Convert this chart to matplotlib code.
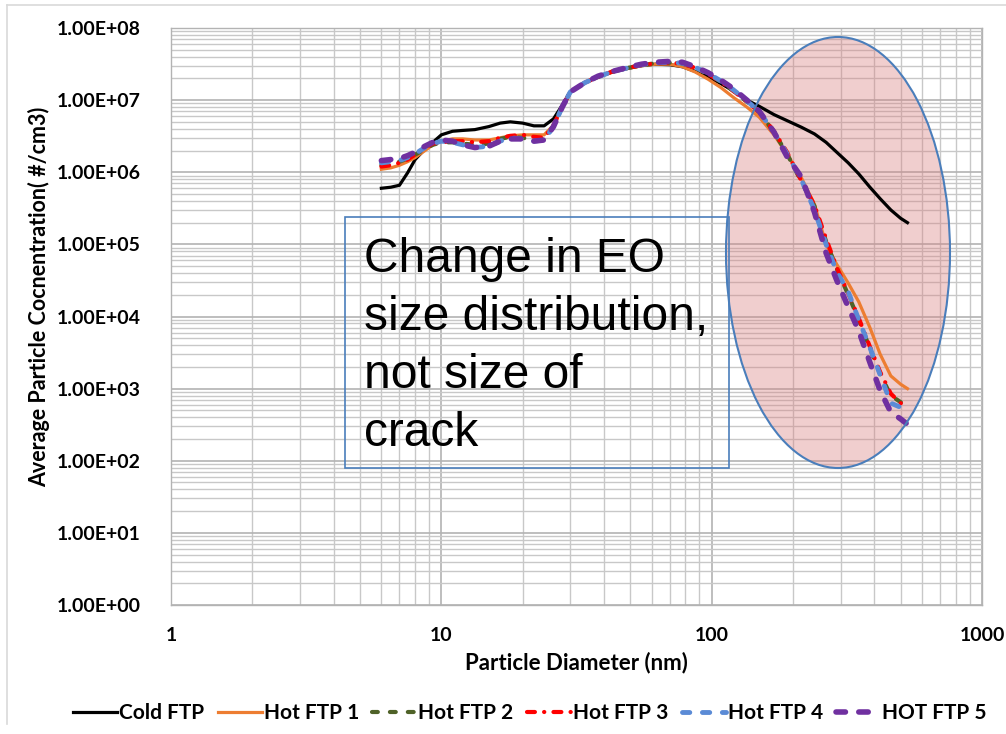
import numpy as np
import matplotlib
matplotlib.use("Agg")
import matplotlib.pyplot as plt
from matplotlib.patches import Ellipse, Rectangle
from matplotlib.ticker import LogLocator, FixedLocator, FuncFormatter, NullFormatter

W, H = 1006, 734

# particle diameter (nm)
diam = [6.0, 6.5, 7.0, 7.5, 8.0, 8.7, 9.3, 10, 11, 12, 13.3, 15, 16.5, 18, 20,
        22, 24, 26, 28, 30, 34, 38, 43, 49, 55, 62, 70, 78, 87, 97, 108, 120,
        135, 150, 170, 190, 215, 240, 265, 290, 320, 350, 385, 420, 460, 500, 530]

cold_ftp = [6.0e5, 6.2e5, 6.6e5, 9.8e5, 1.5e6, 2.1e6, 2.6e6, 3.3e6,
            3.7e6, 3.8e6, 3.9e6, 4.3e6, 4.8e6, 5.0e6, 4.8e6, 4.4e6, 4.4e6, 5.5e6,
            8.5e6, 1.3e7, 1.75e7, 2.1e7, 2.45e7, 2.75e7, 3.0e7, 3.15e7, 3.1e7, 2.9e7,
            2.5e7, 2.1e7, 1.7e7, 1.35e7, 1.0e7, 8.2e6, 6.3e6, 5.2e6, 4.2e6, 3.4e6,
            2.6e6, 1.9e6, 1.35e6, 9.5e5, 6.2e5, 4.3e5, 3.0e5, 2.3e5, 2.0e5]

hot_ftp1 = [1.1e6, 1.15e6, 1.25e6, 1.4e6, 1.6e6, 2.0e6, 2.4e6, 2.7e6,
            2.9e6, 2.9e6, 2.8e6, 2.8e6, 3.0e6, 3.2e6, 3.3e6, 3.3e6, 3.3e6, 4.5e6,
            8.0e6, 1.3e7, 1.75e7, 2.1e7, 2.45e7, 2.75e7, 3.0e7, 3.15e7, 3.15e7, 2.9e7,
            2.45e7, 1.95e7, 1.5e7, 1.1e7, 8.0e6, 5.8e6, 3.3e6, 1.8e6, 8.3e5, 3.6e5,
            1.0e5, 5.3e4, 2.9e4, 1.6e4, 7.0e3, 3.0e3, 1.5e3, 1.15e3, 1.0e3]

hot_ftp2 = [1.25e6, 1.3e6, 1.4e6, 1.55e6, 1.75e6, 2.1e6, 2.4e6, 2.6e6,
            2.6e6, 2.5e6, 2.4e6, 2.5e6, 2.9e6, 3.1e6, 3.0e6, 2.8e6, 2.9e6, 4.4e6,
            8.0e6, 1.3e7, 1.75e7, 2.1e7, 2.5e7, 2.8e7, 3.05e7, 3.25e7, 3.3e7, 3.2e7,
            2.8e7, 2.3e7, 1.8e7, 1.35e7, 9.5e6, 6.8e6, 3.6e6, 1.8e6, 7.3e5, 3.4e5,
            1.1e5, 4.6e4, 2.0e4, 9.0e3, 3.6e3, 1.6e3, 8.0e2, 6.5e2, 6.0e2]

hot_ftp3 = [1.2e6, 1.25e6, 1.35e6, 1.5e6, 1.75e6, 2.2e6, 2.5e6, 2.6e6,
            2.7e6, 2.7e6, 2.6e6, 2.7e6, 3.0e6, 3.2e6, 3.3e6, 3.1e6, 3.0e6, 4.5e6,
            8.0e6, 1.3e7, 1.75e7, 2.1e7, 2.5e7, 2.8e7, 3.05e7, 3.25e7, 3.3e7, 3.2e7,
            2.8e7, 2.3e7, 1.8e7, 1.35e7, 9.5e6, 6.8e6, 3.7e6, 1.9e6, 7.5e5, 3.5e5,
            1.2e5, 4.8e4, 2.1e4, 9.5e3, 3.8e3, 1.7e3, 8.5e2, 6.3e2, 5.6e2]

hot_ftp4 = [1.35e6, 1.4e6, 1.45e6, 1.6e6, 1.8e6, 2.2e6, 2.5e6, 2.7e6,
            2.6e6, 2.4e6, 2.2e6, 2.3e6, 2.7e6, 3.0e6, 2.9e6, 2.7e6, 2.8e6, 4.3e6,
            8.0e6, 1.3e7, 1.75e7, 2.1e7, 2.5e7, 2.8e7, 3.1e7, 3.3e7, 3.35e7, 3.25e7,
            2.85e7, 2.35e7, 1.85e7, 1.4e7, 9.8e6, 6.9e6, 3.6e6, 1.8e6, 7.8e5, 3.0e5,
            1.0e5, 4.2e4, 2.2e4, 9.0e3, 3.7e3, 1.55e3, 6.3e2, 5.5e2, 5.0e2]

hot_ftp5 = [1.45e6, 1.5e6, 1.55e6, 1.7e6, 1.9e6, 2.3e6, 2.6e6, 2.8e6,
            2.7e6, 2.4e6, 2.2e6, 2.3e6, 2.7e6, 2.9e6, 2.9e6, 2.7e6, 2.8e6, 4.3e6,
            8.0e6, 1.3e7, 1.75e7, 2.15e7, 2.5e7, 2.85e7, 3.15e7, 3.35e7, 3.45e7, 3.35e7,
            2.9e7, 2.4e7, 1.9e7, 1.45e7, 1.0e7, 7.0e6, 3.6e6, 1.65e6, 8.5e5, 2.8e5,
            7.6e4, 3.2e4, 1.35e4, 6.3e3, 2.3e3, 9.4e2, 4.7e2, 3.8e2, 3.2e2]

x_ticks = [1, 10, 100, 1000]
y_ticks = [1e0, 1e1, 1e2, 1e3, 1e4, 1e5, 1e6, 1e7, 1e8]

FAM = ["Lato", "DejaVu Sans"]


def fx(px):
    return px / W


def fy(py):
    return 1 - py / H


fig = plt.figure(figsize=(W / 100, H / 100), dpi=100)
ax = fig.add_axes([fx(171), fy(605), (982 - 171) / W, (605 - 28) / H])
ax.set_xscale("log")
ax.set_yscale("log")
ax.set_xlim(1, 1000)
ax.set_ylim(1, 1e8)

ax.xaxis.set_major_locator(FixedLocator(x_ticks))
ax.yaxis.set_major_locator(FixedLocator(y_ticks))
ax.xaxis.set_minor_locator(LogLocator(base=10, subs=range(2, 10), numticks=20))
ax.yaxis.set_minor_locator(LogLocator(base=10, subs=range(2, 10), numticks=20))
ax.xaxis.set_major_formatter(FuncFormatter(lambda v, p: f"{v:g}"))
ax.yaxis.set_major_formatter(FuncFormatter(lambda v, p: format(v, ".2E")))
ax.xaxis.set_minor_formatter(NullFormatter())
ax.yaxis.set_minor_formatter(NullFormatter())
ax.tick_params(which="both", length=0)
ax.tick_params(axis="y", pad=22)
ax.tick_params(axis="x", pad=16)
for lab in ax.get_xticklabels() + ax.get_yticklabels():
    lab.set_fontsize(14)
    lab.set_fontfamily(FAM)
    lab.set_fontweight("bold")

ax.grid(True, which="major", color="#b3b3b3", lw=1.2)
ax.grid(True, which="minor", color="#c8c8c8", lw=1.0)
ax.set_axisbelow(True)
for s in ax.spines.values():
    s.set_color("#b3b3b3")
    s.set_linewidth(1.0)

ax.set_xlabel("Particle Diameter (nm)", fontsize=16, family=FAM,
              fontweight="bold")
ax.xaxis.set_label_coords((576 - 171) / 811, -(652 - 605) / 577)
ax.set_ylabel("Average Particle Cocnentration( #/cm3)", fontsize=15.5,
              family=FAM, fontweight="bold")
ax.yaxis.set_label_coords((50 - 171) / 811, (605 - 297) / 577)

ax.plot(diam, cold_ftp, color="black", lw=2.3, label="Cold FTP", zorder=3)
ax.plot(diam, hot_ftp1, color="#ed7d31", lw=2.3, label="Hot FTP 1", zorder=3)
ax.plot(diam, hot_ftp2, color="#4f6228", lw=3.0, label="Hot FTP 2", zorder=3,
        dashes=(1.4, 2.9), dash_capstyle="round")
ax.plot(diam, hot_ftp3, color="#ff0000", lw=3.0, label="Hot FTP 3", zorder=3,
        dashes=(1.9, 2.2, 0.05, 2.2), dash_capstyle="round")
ax.plot(diam, hot_ftp4, color="#5b8bd6", lw=3.5, label="Hot FTP 4", zorder=3,
        dashes=(1.5, 2.6), dash_capstyle="round")
ax.plot(diam, hot_ftp5, color="#7030a0", lw=4.0, label="HOT FTP 5", zorder=3,
        dashes=(1.7, 2.4), dash_capstyle="round")

# highlight ellipse: translucent fill under the curves, outline above
ell_c = (fx(838), fy(252.5))
ell_w, ell_h = 224 / W, 431 / H
ax.add_patch(Ellipse(ell_c, ell_w, ell_h, transform=fig.transFigure,
                     facecolor="#d98080", alpha=0.38, edgecolor="none",
                     zorder=2, clip_on=False))
ax.add_patch(Ellipse(ell_c, ell_w, ell_h, transform=fig.transFigure,
                     facecolor="none", edgecolor="#4a7ebb", lw=1.5,
                     zorder=4, clip_on=False))

# annotation box
ax.add_patch(Rectangle((fx(345), fy(468)), (729 - 345) / W, (468 - 217) / H,
                       transform=fig.transFigure, facecolor="none",
                       edgecolor="#4a7ebb", lw=1.2, zorder=4, clip_on=False))
fig.text(fx(364), fy(237), "Change in EO\nsize distribution,\nnot size of\ncrack",
         fontsize=34.5, family=["Liberation Sans", "DejaVu Sans"], va="top",
         ha="left", linespacing=1.37, zorder=5)

fig.legend(loc="center", bbox_to_anchor=(fx(530), fy(713)), ncol=6,
           frameon=False, handlelength=2.1, handletextpad=0.1,
           columnspacing=0.65, prop=dict(family=FAM, weight="bold", size=15))

# chart border
fig.add_artist(plt.Line2D([fx(7), fx(7)], [fy(5), fy(724)], color="#d9d9d9",
                          lw=1.2, transform=fig.transFigure))
fig.add_artist(plt.Line2D([fx(7), fx(1006)], [fy(5), fy(5)], color="#d9d9d9",
                          lw=1.2, transform=fig.transFigure))

fig.savefig("out.png", dpi=100)
